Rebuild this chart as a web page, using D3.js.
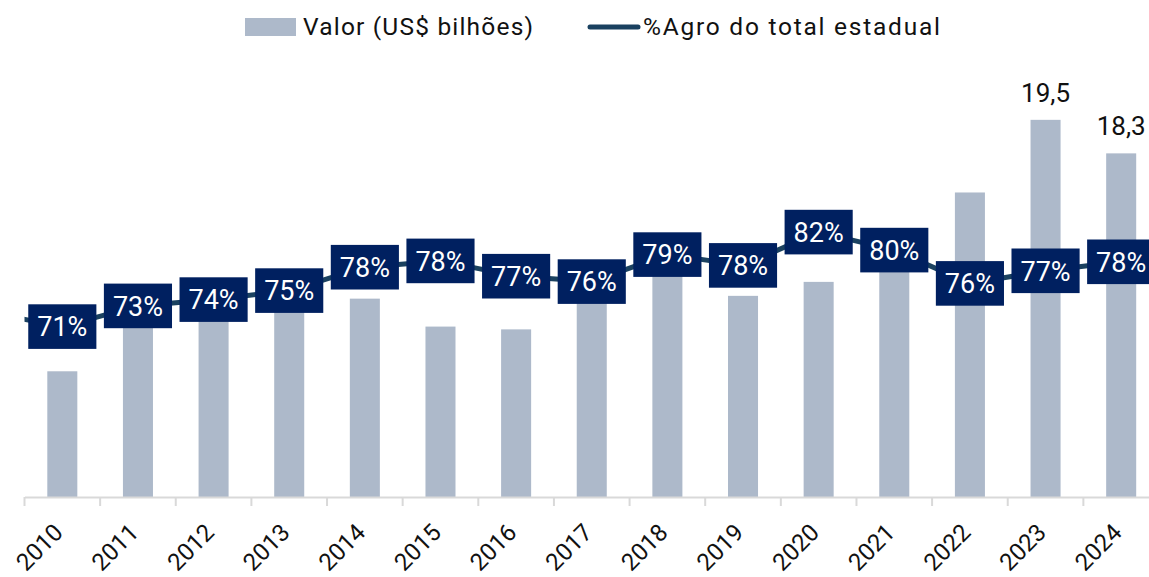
<!DOCTYPE html>
<html><head><meta charset="utf-8">
<script src="https://cdn.jsdelivr.net/npm/d3@7"></script>
<style>
body{margin:0;background:#fff}
svg{display:block;font-family:Roboto, "Noto Sans", sans-serif}
</style>
</head><body>
<svg id="c" width="1149" height="577"></svg>
<script>
// ---- data ----
const years = ["2010","2011","2012","2013","2014","2015","2016","2017","2018","2019","2020","2021","2022","2023","2024"];
const valores = [10.5,12.4,12.5,12.9,13.1,12.1,12.0,13.2,14.0,13.2,13.7,14.2,16.9,19.5,18.3];
const pctAgro = [71.1,73.4,74.1,75.1,77.7,78.4,76.7,76.1,79.1,77.9,81.6,79.6,75.9,77.3,78.3];
const pctAgroPrev = 72.7; // 2009, only partly visible at the left edge
const labeledYears = ["2023","2024"];
const legendItems = ["Valor (US$ bilhões)","%Agro do total estadual"];

// ---- style ----
const FONT = "Roboto, sans-serif";
const barColor = "#ADB9CA", lineColor = "#1A4160", boxColor = "#002060", axisColor = "#D9D9D9";
const svg = d3.select("#c");
const W = 1149, H = 577;
const plotL = 24.5, plotR = 1159, base = 497;

const x = d3.scaleBand().domain(years).range([plotL, plotR]).paddingInner(0.603).paddingOuter(0.3015);
const y = d3.scaleLinear().domain([6, 22]).range([base, 50]);
const yP = d3.scaleLinear().domain([60, 100]).range([426.5, 66.5]);
const fmt = d3.formatLocale({decimal:",", thousands:".", grouping:[3], currency:["",""]}).format(".1f");

svg.append("defs").append("clipPath").attr("id","clip")
  .append("rect").attr("x", plotL).attr("y", 0).attr("width", plotR-plotL).attr("height", H);

// bars
svg.append("g").selectAll("rect").data(years).join("rect")
  .attr("x", d => x(d)).attr("width", x.bandwidth())
  .attr("y", (d,i) => y(valores[i])).attr("height", (d,i) => base - y(valores[i]))
  .attr("fill", barColor);

// axis
const gx = svg.append("g").attr("transform", `translate(0,${base})`)
  .call(d3.axisBottom(x).tickSize(0).tickPadding(0));
gx.select(".domain").attr("stroke", axisColor).attr("stroke-width", 2);
gx.selectAll(".tick text")
  .attr("font-size", 24).attr("fill", "#111").attr("font-family", FONT)
  .attr("text-anchor", "end").attr("y", 0).attr("dy", 0)
  .attr("transform", "translate(2,37) rotate(-45)");
const half = (x.step() - x.bandwidth()) / 2;
const bounds = years.map(d => x(d) - half).concat([x(years[years.length-1]) + x.bandwidth() + half]);
gx.append("g").selectAll("line").data(bounds).join("line")
  .attr("x1", d => d).attr("x2", d => d).attr("y1", 0).attr("y2", 9)
  .attr("stroke", axisColor).attr("stroke-width", 2);

// value labels
svg.append("g").selectAll("text").data(labeledYears).join("text")
  .attr("x", d => x(d) + x.bandwidth()/2)
  .attr("y", d => y(valores[years.indexOf(d)]) - 18)
  .attr("text-anchor", "middle").attr("font-size", 26).attr("fill", "#111")
  .text(d => fmt(valores[years.indexOf(d)]));

// line
const cx = i => x(years[i]) + x.bandwidth()/2;
const pts = [[cx(0) - x.step(), yP(pctAgroPrev)]].concat(pctAgro.map((v,i) => [cx(i), yP(v)]));
svg.append("path").attr("clip-path","url(#clip)")
  .attr("d", d3.line()(pts)).attr("fill","none")
  .attr("stroke", lineColor).attr("stroke-width", 5).attr("stroke-linejoin","round");

// line labels
const lg = svg.append("g").selectAll("g").data(pctAgro).join("g")
  .attr("transform", (v,i) => `translate(${cx(i)},${yP(v)})`);
lg.append("text").attr("text-anchor","middle").attr("dy","0.36em")
  .attr("font-size", 27).attr("fill", "#fff").text(v => Math.round(v) + "%");
lg.each(function(){
  const g = d3.select(this), t = g.select("text");
  const w = t.node().getComputedTextLength() + 18;
  g.insert("rect","text").attr("x", -w/2).attr("y", -22.3).attr("width", w).attr("height", 44.6).attr("fill", boxColor);
});

// legend
const leg = svg.append("g");
leg.append("rect").attr("x", 245).attr("y", 18).attr("width", 51).attr("height", 18).attr("fill", barColor);
leg.append("text").attr("x", 303).attr("y", 35).attr("font-size", 24.5).attr("fill","#111")
  .attr("textLength", 230).attr("lengthAdjust", "spacing").text(legendItems[0]);
leg.append("line").attr("x1", 590).attr("x2", 638).attr("y1", 27).attr("y2", 27)
  .attr("stroke", lineColor).attr("stroke-width", 5).attr("stroke-linecap","round");
leg.append("text").attr("x", 643).attr("y", 35).attr("font-size", 24.5).attr("fill","#111")
  .attr("textLength", 297).attr("lengthAdjust", "spacing").text(legendItems[1]);
</script>
</body></html>
